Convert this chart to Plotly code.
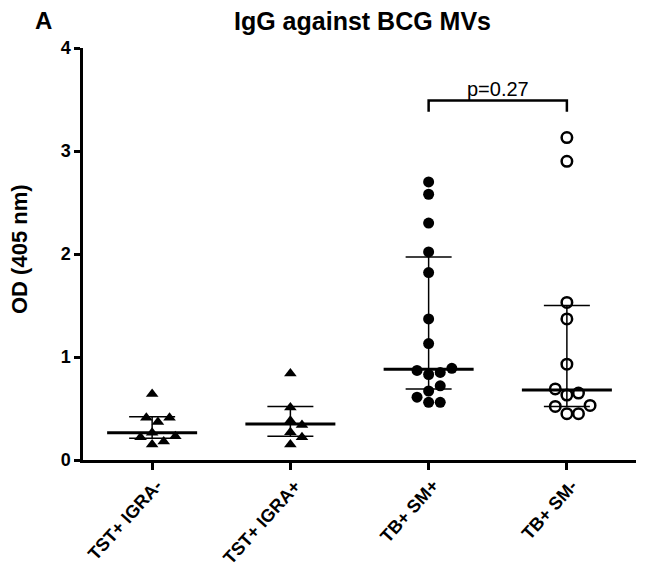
import plotly.graph_objects as go
import numpy as np

categories = ["TST+ IGRA-", "TST+ IGRA+", "TB+ SM+", "TB+ SM-"]
vals_tst_igra_neg = [0.64, 0.41, 0.41, 0.37, 0.265, 0.22, 0.23, 0.18, 0.15]
vals_tst_igra_pos = [0.84, 0.51, 0.38, 0.34, 0.27, 0.22, 0.15]
vals_tb_sm_pos = [2.70, 2.58, 2.30, 2.02, 1.82, 1.37, 1.13, 0.89, 0.87, 0.85,
                  0.83, 0.72, 0.67, 0.61, 0.56, 0.56]
vals_tb_sm_neg = [3.13, 2.90, 1.53, 1.37, 0.93, 0.69, 0.65, 0.63, 0.53, 0.52,
                  0.45, 0.45]
medians = [0.265, 0.35, 0.88, 0.68]
q1 = [0.21, 0.23, 0.69, 0.52]
q3 = [0.42, 0.52, 1.97, 1.50]
y_ticks = [0, 1, 2, 3, 4]
p_text = "p=0.27"
compare_pair = [2, 3]
bracket_y = 3.49
title_text = "IgG against BCG MVs"
panel_label = "A"
y_title = "OD (405 nm)"

# layout geometry (px); page body has an 8px default margin
PAGE = 8
W, H = 647 - PAGE, 568 - PAGE
ML, MT = 83 - PAGE, 48 - PAGE
plot_w = 553
plot_h = 412
MR = W - ML - plot_w
MB = H - MT - plot_h
px_per_x = plot_w / 4.0
px_per_y = plot_h / 4.0
STEP = 11.6


def px_to_paper(xpx, ypx):
    # xpx, ypx given in screenshot pixels
    xf, yf = xpx - PAGE, ypx - PAGE
    return (xf - ML) / plot_w, (MT + plot_h - yf) / plot_h


def beeswarm(values):
    order = np.argsort(values, kind="stable")
    placed = []
    offsets = [0.0] * len(values)
    cands = [0.0]
    for k in range(1, 30):
        cands += [k * 0.5, -k * 0.5]
    for i in order:
        y = values[i] * px_per_y
        x = 0.0
        for c in cands:
            x = c * STEP
            if all((x - px) ** 2 + (y - py) ** 2 >= (STEP * 0.97) ** 2 for py, px in placed):
                break
        placed.append((y, x))
        offsets[i] = x / px_per_x
    return offsets


FONT = "Liberation Sans, Arial, sans-serif"
fig = go.Figure()

groups = [vals_tst_igra_neg, vals_tst_igra_pos, vals_tb_sm_pos, vals_tb_sm_neg]
symbols = ["triangle-up", "triangle-up", "circle", "circle-open"]

# median + IQR lines
half_med = 45 / px_per_x
half_cap = 23 / px_per_x
for i in range(4):
    fig.add_trace(go.Scatter(x=[i - half_med, i + half_med], y=[medians[i]] * 2,
                             mode="lines", line=dict(color="black", width=3),
                             showlegend=False, hoverinfo="skip"))
    fig.add_trace(go.Scatter(
        x=[i - half_cap, i + half_cap, None, i - half_cap, i + half_cap, None, i, i],
        y=[q1[i], q1[i], None, q3[i], q3[i], None, q1[i], q3[i]],
        mode="lines", line=dict(color="black", width=1.5),
        showlegend=False, hoverinfo="skip"))

for i, vals in enumerate(groups):
    offs = beeswarm(vals)
    sym = symbols[i]
    marker = dict(symbol=sym, color="black", size=11 if sym != "circle-open" else 10.5)
    if sym == "circle-open":
        marker["line"] = dict(color="black", width=2.5)
    fig.add_trace(go.Scatter(x=[i + o for o in offs], y=vals, mode="markers",
                             marker=marker, showlegend=False, name=categories[i]))

# significance bracket
a, b = compare_pair
fig.add_trace(go.Scatter(x=[a, a, b, b], y=[bracket_y - 0.11, bracket_y, bracket_y, bracket_y - 0.11],
                         mode="lines", line=dict(color="black", width=2.5),
                         showlegend=False, hoverinfo="skip"))
fig.add_annotation(x=(a + b) / 2, y=bracket_y, text=p_text, showarrow=False,
                   yanchor="bottom", yshift=-1,
                   font=dict(family=FONT, size=20, color="black"))

# rotated category labels
_, lab_y = px_to_paper(0, 473)
for i, cat in enumerate(categories):
    fig.add_annotation(x=i + 17 / px_per_x, y=lab_y, xref="x", yref="paper",
                       text=cat, showarrow=False, textangle=-48,
                       xanchor="right", yanchor="top",
                       font=dict(family=FONT, size=18, color="black", weight="bold"))

ax, ay = px_to_paper(43, 20)
fig.add_annotation(xref="paper", yref="paper", x=ax, y=ay,
                   text=panel_label, showarrow=False, xanchor="center", yanchor="middle",
                   font=dict(family=FONT, size=24, color="black", weight="bold"))

tx, ty = px_to_paper(362, 21)
fig.add_annotation(xref="paper", yref="paper", x=tx, y=ty,
                   text=title_text, showarrow=False, xanchor="center", yanchor="middle",
                   font=dict(family=FONT, size=25, color="black", weight="bold"))

lx, ly = px_to_paper(19, 249)
fig.add_annotation(xref="paper", yref="paper", x=lx, y=ly, textangle=-90,
                   text=y_title, showarrow=False, xanchor="center", yanchor="middle",
                   font=dict(family=FONT, size=22, color="black", weight="bold"))

fig.update_layout(
    width=W, height=H,
    margin=dict(l=ML, r=MR, t=MT, b=MB, pad=0),
    paper_bgcolor="white", plot_bgcolor="white",
    xaxis=dict(range=[-0.5, 3.5], tickmode="array", tickvals=list(range(4)), ticktext=categories,
               showticklabels=False, showline=True, linecolor="black", linewidth=2.5,
               ticks="outside", ticklen=7, tickwidth=2.5, tickcolor="black",
               showgrid=False, zeroline=False, automargin=False),
    yaxis=dict(range=[0, 4], tickmode="array", tickvals=y_ticks,
               showline=True, linecolor="black", linewidth=2.5,
               ticks="outside", ticklen=6, tickwidth=2.5, tickcolor="black",
               showgrid=False, zeroline=False, automargin=False,
               tickfont=dict(family=FONT, size=18, color="black", weight="bold")),
)

fig.write_html("out.html")
